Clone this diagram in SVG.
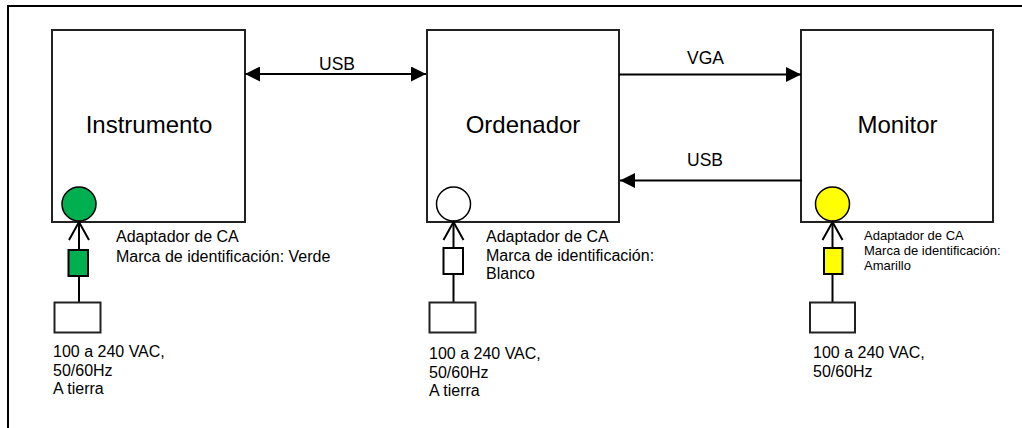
<svg xmlns="http://www.w3.org/2000/svg" width="1022" height="428" viewBox="0 0 1022 428">
<defs>
<style>
.box{fill:#fff;stroke:#222;stroke-width:2}
.ln{fill:none;stroke:#000;stroke-width:2}
.t{font-family:"Liberation Sans",Arial,sans-serif;fill:#000}
.big{font-size:24px;text-anchor:middle}
.lbl{font-size:17.5px}
.s{font-size:16px}
.xs{font-size:13px}
</style>
<marker id="ah" viewBox="0 0 15 15" refX="15" refY="7.5" markerWidth="15" markerHeight="15" markerUnits="userSpaceOnUse" orient="auto-start-reverse">
<path d="M0,0 L15,7.5 L0,15 Z" fill="#000"/>
</marker>
</defs>
<rect width="1022" height="428" fill="#fff"/>
<path d="M8,428 V6 H1022" class="ln" stroke-width="2.2"/>

<g id="instrumento">
<rect class="box" x="52" y="30" width="193" height="192"/>
<text class="t big" x="149" y="133">Instrumento</text>
<circle cx="79" cy="204" r="17" fill="#00b050" stroke="#000" stroke-width="1.5"/>
</g>
<g id="ordenador">
<rect class="box" x="427" y="30" width="192" height="192"/>
<text class="t big" x="523" y="133">Ordenador</text>
<circle cx="453.5" cy="204" r="17" fill="#fff" stroke="#000" stroke-width="1.5"/>
</g>
<g id="monitor">
<rect class="box" x="801" y="30" width="192" height="192"/>
<text class="t big" x="897.5" y="133">Monitor</text>
<circle cx="832.5" cy="204" r="17" fill="#ffff00" stroke="#000" stroke-width="1.5"/>
</g>

<g id="connectors">
<line class="ln" x1="245" y1="74" x2="426" y2="74" marker-start="url(#ah)" marker-end="url(#ah)"/>
<text class="t lbl" x="319" y="70">USB</text>
<line class="ln" x1="619" y1="74.5" x2="801" y2="74.5" marker-end="url(#ah)"/>
<text class="t lbl" x="687" y="63.5">VGA</text>
<line class="ln" x1="802" y1="180.5" x2="620" y2="180.5" marker-end="url(#ah)"/>
<text class="t lbl" x="687" y="166">USB</text>
</g>

<g id="power-instrumento">
<line class="ln" x1="79" y1="222" x2="79" y2="302"/>
<path class="ln" d="M69,240 L79,222 L89,240"/>
<rect x="68.5" y="250" width="19.5" height="26" fill="#00b050" stroke="#000" stroke-width="2"/>
<rect class="box" x="54.5" y="302.5" width="46" height="30"/>
<text class="t s" x="116" y="241.5">Adaptador de CA</text>
<text class="t s" x="116" y="261.5">Marca de identificación: Verde</text>
<text class="t s" x="53" y="357">100 a 240 VAC,</text>
<text class="t s" x="53" y="375.5">50/60Hz</text>
<text class="t s" x="53" y="394">A tierra</text>
</g>
<g id="power-ordenador">
<line class="ln" x1="453.5" y1="222" x2="453.5" y2="302"/>
<path class="ln" d="M443.5,240 L453.5,222 L463.5,240"/>
<rect x="443.5" y="248" width="19.5" height="26" fill="#fff" stroke="#000" stroke-width="2"/>
<rect class="box" x="429.5" y="302.5" width="46" height="30"/>
<text class="t s" x="486" y="241.5">Adaptador de CA</text>
<text class="t s" x="486" y="260.5">Marca de identificación:</text>
<text class="t s" x="486" y="279">Blanco</text>
<text class="t s" x="429" y="359">100 a 240 VAC,</text>
<text class="t s" x="429" y="377.5">50/60Hz</text>
<text class="t s" x="429" y="396">A tierra</text>
</g>
<g id="power-monitor">
<line class="ln" x1="832.5" y1="222" x2="832.5" y2="302"/>
<path class="ln" d="M822.5,240 L832.5,222 L842.5,240"/>
<rect x="824" y="248" width="18.5" height="26" fill="#ffff00" stroke="#000" stroke-width="2"/>
<rect class="box" x="810" y="302.5" width="45" height="30"/>
<text class="t xs" x="864" y="240">Adaptador de CA</text>
<text class="t xs" x="864" y="255">Marca de identificación:</text>
<text class="t xs" x="864" y="270">Amarillo</text>
<text class="t s" x="813" y="358">100 a 240 VAC,</text>
<text class="t s" x="813" y="376.5">50/60Hz</text>
</g>
</svg>
